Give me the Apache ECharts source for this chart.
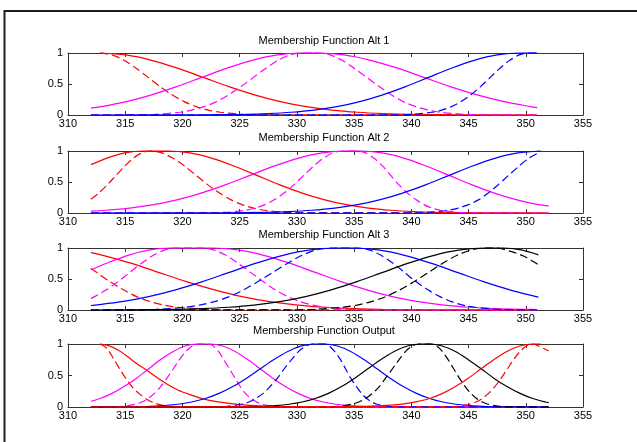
<!DOCTYPE html>
<html><head><meta charset="utf-8">
<script src="https://cdn.jsdelivr.net/npm/echarts@6/dist/echarts.min.js"></script>
<style>html,body{margin:0;padding:0;background:#fff}#c{width:637px;height:442px}</style>
</head><body><div id="c"></div>
<script>
// axis ticks
const xTickMin = 310, xTickMax = 355, xTickStep = 5;
const yTickMin = 0, yTickMax = 1, yTickStep = 0.5;
const panelTitles = ['Membership Function Alt 1', 'Membership Function Alt 2', 'Membership Function Alt 3', 'Membership Function Output'];

// ---- Panel 1 (Alt 1) ----
const p1RedSolid = [[312.8,1],[315.05,0.969],[317.3,0.882],[319.55,0.755],[321.8,0.607],[324.05,0.458],[326.3,0.325],[328.55,0.216],[330.8,0.135],[333.05,0.079],[335.3,0.044],[337.55,0.023],[339.8,0.011],[344.3,0.002],[351,0]];
const p1RedDash = [[312.8,1],[313.85,0.969],[314.9,0.882],[315.95,0.755],[317,0.607],[318.05,0.458],[319.1,0.325],[320.15,0.216],[321.2,0.135],[322.25,0.079],[323.3,0.044],[325.4,0.011],[327.5,0.002],[351,0]];
const p1MagSolid = [[312,0.11],[312.9,0.135],[315.1,0.216],[317.3,0.325],[319.5,0.458],[321.7,0.607],[323.9,0.755],[326.1,0.882],[328.3,0.969],[330.5,1],[331.8,1],[334.1,0.969],[336.45,0.882],[338.8,0.755],[341.1,0.607],[343.4,0.458],[345.75,0.325],[348.1,0.216],[350.4,0.135],[351,0.118]];
const p1MagDash = [[312,0],[315,0.001],[317.6,0.011],[319.75,0.044],[320.8,0.079],[321.9,0.135],[322.98,0.216],[324.05,0.325],[325.1,0.458],[326.2,0.607],[327.3,0.755],[328.35,0.882],[329.4,0.969],[330.5,1],[331.8,1],[332.9,0.969],[333.95,0.882],[335,0.755],[336.1,0.607],[337.2,0.458],[338.25,0.325],[339.3,0.216],[340.4,0.135],[341.5,0.079],[342.55,0.044],[344.7,0.011],[346.8,0.002],[351,0]];
const p1BlueSolid = [[312,0],[321.5,0.002],[325.5,0.011],[327.5,0.023],[329.5,0.044],[331.5,0.079],[333.5,0.135],[335.5,0.216],[337.5,0.325],[339.5,0.458],[341.5,0.607],[343.5,0.755],[345.5,0.882],[347.5,0.969],[349.5,1],[351,1]];
const p1BlueDash = [[312,0],[338.4,0.002],[340.1,0.011],[341.8,0.044],[342.65,0.079],[343.5,0.135],[344.35,0.216],[345.2,0.325],[346.05,0.458],[346.9,0.607],[347.75,0.755],[348.6,0.882],[349.45,0.969],[350.3,1],[351,1]];

// ---- Panel 2 (Alt 2) ----
const p2RedSolid = [[312,0.78],[313.35,0.882],[314.97,0.969],[316.6,1],[318.7,1],[320.65,0.969],[322.6,0.882],[324.55,0.755],[326.5,0.607],[328.45,0.458],[330.4,0.325],[332.35,0.216],[334.3,0.135],[336.25,0.079],[338.2,0.044],[340.15,0.023],[342.1,0.011],[346,0.002],[352,0]];
const p2RedDash = [[312,0.22],[312.7,0.325],[313.45,0.458],[314.2,0.607],[314.95,0.755],[315.7,0.882],[316.45,0.969],[317.2,1],[318.2,0.969],[319.2,0.882],[320.2,0.755],[321.2,0.607],[322.2,0.458],[323.2,0.325],[324.2,0.216],[325.2,0.135],[326.2,0.079],[327.2,0.044],[329.2,0.011],[331.2,0.002],[352,0]];
const p2MagSolid = [[312,0.03],[313.3,0.044],[315.4,0.079],[317.5,0.135],[319.6,0.216],[321.7,0.325],[323.8,0.458],[325.9,0.607],[328,0.755],[330.1,0.882],[332.2,0.969],[334.3,1],[335.5,1],[337.45,0.969],[339.4,0.882],[341.35,0.755],[343.3,0.607],[345.25,0.458],[347.2,0.325],[349.15,0.216],[351.1,0.135],[352,0.115]];
const p2MagDash = [[312,0],[321,0.001],[323.8,0.011],[325.5,0.044],[326.35,0.079],[327.2,0.135],[328.05,0.216],[328.9,0.325],[329.75,0.458],[330.6,0.607],[331.45,0.755],[332.3,0.882],[333.15,0.969],[334,1],[335.3,1],[336,0.969],[336.75,0.882],[337.5,0.755],[338.2,0.607],[338.9,0.458],[339.65,0.325],[340.4,0.216],[341.1,0.135],[341.8,0.079],[342.55,0.044],[344,0.011],[345.5,0.002],[352,0]];
const p2BlueSolid = [[312,0],[323.3,0.002],[327.3,0.011],[329.3,0.023],[331.3,0.044],[333.3,0.079],[335.3,0.135],[337.3,0.216],[339.3,0.325],[341.3,0.458],[343.3,0.607],[345.3,0.755],[347.3,0.882],[349.3,0.969],[351.3,1]];
const p2BlueDash = [[312,0],[339.75,0.002],[341.5,0.011],[343.25,0.044],[344.1,0.079],[345,0.135],[345.9,0.216],[346.75,0.325],[347.6,0.458],[348.5,0.607],[349.4,0.755],[350.25,0.882],[351.1,0.969]];

// ---- Panel 3 (Alt 3) ----
const p3RedSolid = [[312,0.926],[313.05,0.882],[315.5,0.755],[317.9,0.607],[320.35,0.458],[322.8,0.325],[325.2,0.216],[327.65,0.135],[330.1,0.079],[332.5,0.044],[334.95,0.023],[337.4,0.011],[342.3,0.002],[351,0]];
const p3RedDash = [[312,0.67],[312.5,0.607],[313.65,0.458],[314.85,0.325],[316,0.216],[317.2,0.135],[318.4,0.079],[319.55,0.044],[322,0.011],[324.3,0.002],[351,0]];
const p3MagSolid = [[312,0.649],[313.38,0.755],[315.25,0.882],[317.13,0.969],[319,1],[322.6,1],[324.85,0.969],[327.1,0.882],[329.35,0.755],[331.6,0.607],[333.85,0.458],[336.1,0.325],[338.35,0.216],[340.6,0.135],[342.85,0.079],[345.1,0.044],[347.35,0.023],[349.6,0.011],[351,0.007]];
const p3MagDash = [[312,0.187],[312.33,0.216],[313.35,0.325],[314.38,0.458],[315.4,0.607],[316.43,0.755],[317.45,0.882],[318.48,0.969],[319.5,1],[321.6,1],[322.7,0.969],[323.8,0.882],[324.85,0.755],[325.95,0.607],[327.05,0.458],[328.1,0.325],[329.2,0.216],[330.3,0.135],[331.4,0.079],[332.5,0.044],[334.65,0.011],[336.8,0.002],[351,0]];
const p3BlueSolid = [[312,0.073],[312.35,0.079],[314.7,0.135],[317.05,0.216],[319.4,0.325],[321.75,0.458],[324.1,0.607],[326.45,0.755],[328.8,0.882],[331.15,0.969],[333.5,1],[334.8,1],[337.1,0.969],[339.4,0.882],[341.7,0.755],[344,0.607],[346.3,0.458],[348.6,0.325],[350.9,0.216],[351.1,0.208]];
const p3BlueDash = [[312,0],[314,0.001],[317.7,0.011],[320.25,0.044],[321.5,0.079],[322.8,0.135],[324.1,0.216],[325.35,0.325],[326.6,0.458],[327.9,0.607],[329.2,0.755],[330.45,0.882],[331.7,0.969],[333,1],[335.3,1],[336.3,0.969],[337.35,0.882],[338.4,0.755],[339.4,0.607],[340.4,0.458],[341.45,0.325],[342.5,0.216],[343.5,0.135],[344.5,0.079],[345.55,0.044],[347.6,0.011],[349.65,0.002],[351,0]];
const p3BlackSolid = [[312,0],[315,0.002],[319.5,0.011],[321.75,0.023],[324,0.044],[326.25,0.079],[328.5,0.135],[330.75,0.216],[333,0.325],[335.25,0.458],[337.5,0.607],[339.75,0.755],[342,0.882],[344.25,0.969],[346.5,1],[348,1],[349.6,0.969],[351.1,0.89]];
const p3BlackDash = [[312,0],[329,0.002],[331.5,0.011],[334,0.044],[335.25,0.079],[336.5,0.135],[337.75,0.216],[339,0.325],[340.25,0.458],[341.5,0.607],[342.75,0.755],[344,0.882],[345.25,0.969],[346.5,1],[347.5,1],[348.6,0.95],[349.8,0.87],[351.1,0.73]];

// ---- Panel 4 (Output) ----
const p4Red1Solid = [[312.8,1],[313.6,0.97],[314.4,0.9],[315.2,0.8],[316,0.69],[316.9,0.58],[318,0.44],[318.6,0.37],[319.6,0.27],[320.6,0.2],[321.8,0.13],[323,0.085],[324.8,0.042],[327,0.015],[330,0.003],[352,0]];
const p4Red1Dash = [[312.8,1],[313.4,0.93],[314,0.76],[314.6,0.58],[315.1,0.44],[315.7,0.3],[316.3,0.2],[316.9,0.12],[317.6,0.06],[318.5,0.02],[320,0.002],[352,0]];
const p4MagSolid = [[312,0.091],[312.8,0.135],[313.85,0.216],[314.9,0.325],[316,0.458],[317.05,0.607],[318.1,0.755],[319.2,0.882],[320.25,0.969],[321.3,1],[322.4,1],[323.5,0.969],[324.6,0.882],[325.7,0.755],[326.8,0.607],[327.9,0.458],[329,0.325],[330.1,0.216],[331.2,0.135],[332.3,0.079],[333.4,0.044],[335.6,0.011],[337.8,0.002],[352,0]];
const p4MagDash = [[312,0],[313.5,0.001],[314.8,0.011],[315.9,0.044],[316.45,0.079],[317,0.135],[317.55,0.216],[318.1,0.325],[318.65,0.458],[319.2,0.607],[319.75,0.755],[320.3,0.882],[320.85,0.969],[321.4,1],[322.2,1],[322.7,0.969],[323.15,0.882],[323.6,0.755],[324.1,0.607],[324.6,0.458],[325.05,0.325],[325.5,0.216],[326,0.135],[326.5,0.079],[326.95,0.044],[327.9,0.011],[328.85,0.002],[352,0]];
const p4BlueSolid = [[312,0],[314.8,0.002],[317.2,0.011],[319.6,0.044],[320.8,0.079],[322,0.135],[323.2,0.216],[324.4,0.325],[325.6,0.458],[326.8,0.607],[328,0.755],[329.2,0.882],[330.4,0.969],[331.6,1],[332.4,1],[333.55,0.969],[334.7,0.882],[335.85,0.755],[337,0.607],[338.15,0.458],[339.3,0.325],[340.45,0.216],[341.6,0.135],[342.75,0.079],[343.9,0.044],[346.2,0.011],[348.5,0.002],[352,0]];
const p4BlueDash = [[312,0],[322,0.001],[323.9,0.011],[325.15,0.044],[325.8,0.079],[326.4,0.135],[327.05,0.216],[327.65,0.325],[328.3,0.458],[328.9,0.607],[329.55,0.755],[330.15,0.882],[330.8,0.969],[331.4,1],[332.4,1],[332.85,0.969],[333.3,0.882],[333.8,0.755],[334.25,0.607],[334.7,0.458],[335.2,0.325],[335.65,0.216],[336.1,0.135],[336.55,0.079],[337,0.044],[337.95,0.011],[338.9,0.002],[352,0]];
const p4BlackSolid = [[312,0],[324.7,0.002],[327,0.011],[328.15,0.023],[329.3,0.044],[330.45,0.079],[331.6,0.135],[332.75,0.216],[333.9,0.325],[335.05,0.458],[336.2,0.607],[337.35,0.755],[338.5,0.882],[339.65,0.969],[340.8,1],[341.6,1],[342.7,0.969],[343.85,0.882],[344.95,0.755],[346.1,0.607],[347.2,0.458],[348.35,0.325],[349.5,0.216],[350.6,0.135],[351.7,0.079],[352,0.069]];
const p4BlackDash = [[312,0],[332.5,0.002],[333.65,0.011],[334.8,0.044],[335.4,0.079],[336,0.135],[336.6,0.216],[337.2,0.325],[337.75,0.458],[338.35,0.607],[338.95,0.755],[339.5,0.882],[340.1,0.969],[340.7,1],[341.7,1],[342.2,0.969],[342.7,0.882],[343.2,0.755],[343.7,0.607],[344.2,0.458],[344.7,0.325],[345.2,0.216],[345.7,0.135],[346.2,0.079],[346.7,0.044],[347.7,0.011],[348.7,0.002],[352,0]];
const p4Red2Solid = [[312,0],[333,0.002],[336,0.01],[338.2,0.03],[339.35,0.05],[340.48,0.085],[341.6,0.135],[342.73,0.216],[343.85,0.325],[344.98,0.458],[346.1,0.607],[347.23,0.755],[348.35,0.882],[349.48,0.969],[350.6,1],[351.3,1]];
const p4Red2Dash = [[312,0],[342.9,0.002],[344,0.011],[345.1,0.044],[345.65,0.079],[346.2,0.135],[346.75,0.216],[347.3,0.325],[347.85,0.458],[348.4,0.607],[348.95,0.755],[349.5,0.882],[350.05,0.969],[350.6,1],[351.2,0.96],[352,0.89]];

// ---- layout / style ----
const RED = '#ff0000', MAG = '#ff00ff', BLUE = '#0000ff', BLACK = '#000000';
const panels = [
  { title: panelTitles[0], titleY: 41, top: 53, height: 62, curves: [
    [p1RedSolid, RED, false], [p1RedDash, RED, true], [p1MagSolid, MAG, false], [p1MagDash, MAG, true],
    [p1BlueSolid, BLUE, false], [p1BlueDash, BLUE, true]] },
  { title: panelTitles[1], titleY: 138, top: 151, height: 62, curves: [
    [p2RedSolid, RED, false], [p2RedDash, RED, true], [p2MagSolid, MAG, false], [p2MagDash, MAG, true],
    [p2BlueSolid, BLUE, false], [p2BlueDash, BLUE, true]] },
  { title: panelTitles[2], titleY: 235, top: 248, height: 62, curves: [
    [p3RedSolid, RED, false], [p3RedDash, RED, true], [p3MagSolid, MAG, false], [p3MagDash, MAG, true],
    [p3BlueSolid, BLUE, false], [p3BlueDash, BLUE, true], [p3BlackSolid, BLACK, false], [p3BlackDash, BLACK, true]] },
  { title: panelTitles[3], titleY: 331, top: 344, height: 63, curves: [
    [p4Red1Solid, RED, false], [p4Red1Dash, RED, true], [p4MagSolid, MAG, false], [p4MagDash, MAG, true],
    [p4BlueSolid, BLUE, false], [p4BlueDash, BLUE, true], [p4BlackSolid, BLACK, false], [p4BlackDash, BLACK, true],
    [p4Red2Solid, RED, false], [p4Red2Dash, RED, true]] }
];

const FONT = '"Liberation Sans", Arial, Helvetica, sans-serif';
const AXC = '#333333';
const grids = [], xAxes = [], yAxes = [], series = [], graphics = [];

graphics.push({ type: 'rect', silent: true, z: 100,
  shape: { x: 4.5, y: 11, width: 700, height: 600 },
  style: { fill: 'none', stroke: '#1e1e1e', lineWidth: 2 } });

panels.forEach((p, i) => {
  grids.push({ left: 68, right: 54, top: p.top, height: p.height, containLabel: false });
  const xBase = { type: 'value', gridIndex: i, min: xTickMin, max: xTickMax, interval: xTickStep,
    splitLine: { show: false },
    axisLine: { show: true, onZero: false, lineStyle: { color: AXC, width: 1 } },
    axisTick: { show: true, inside: true, length: 4, lineStyle: { color: AXC } } };
  xAxes.push(Object.assign({}, xBase, { position: 'bottom',
    axisLabel: { show: true, margin: 3, fontSize: 11, fontFamily: FONT, color: '#000' } }));
  xAxes.push(Object.assign({}, xBase, { position: 'top', axisLabel: { show: false } }));
  const yBase = { type: 'value', gridIndex: i, min: yTickMin, max: yTickMax, interval: yTickStep,
    splitLine: { show: false },
    axisLine: { show: true, onZero: false, lineStyle: { color: AXC, width: 1 } },
    axisTick: { show: true, inside: true, length: 4, lineStyle: { color: AXC } } };
  yAxes.push(Object.assign({}, yBase, { position: 'left',
    axisLabel: { show: true, margin: 5, fontSize: 11, fontFamily: FONT, color: '#000' } }));
  yAxes.push(Object.assign({}, yBase, { position: 'right', axisLabel: { show: false } }));

  p.curves.forEach(c => {
    series.push({ type: 'line', xAxisIndex: 2 * i, yAxisIndex: 2 * i, data: c[0],
      showSymbol: false, symbol: 'none', smooth: 0.3, clip: false, animation: false, silent: true,
      lineStyle: { color: c[1], width: 1.2, type: c[2] ? [8, 4] : 'solid' } });
  });

  graphics.push({ type: 'text', silent: true, x: 324, y: p.titleY,
    style: { text: p.title, font: '11px ' + FONT, fill: '#000', textAlign: 'center', textVerticalAlign: 'middle' } });
});

const chart = echarts.init(document.getElementById('c'), null, { renderer: 'canvas' });
chart.setOption({
  backgroundColor: '#ffffff',
  animation: false,
  grid: grids, xAxis: xAxes, yAxis: yAxes, series: series, graphic: graphics
});
</script></body></html>
